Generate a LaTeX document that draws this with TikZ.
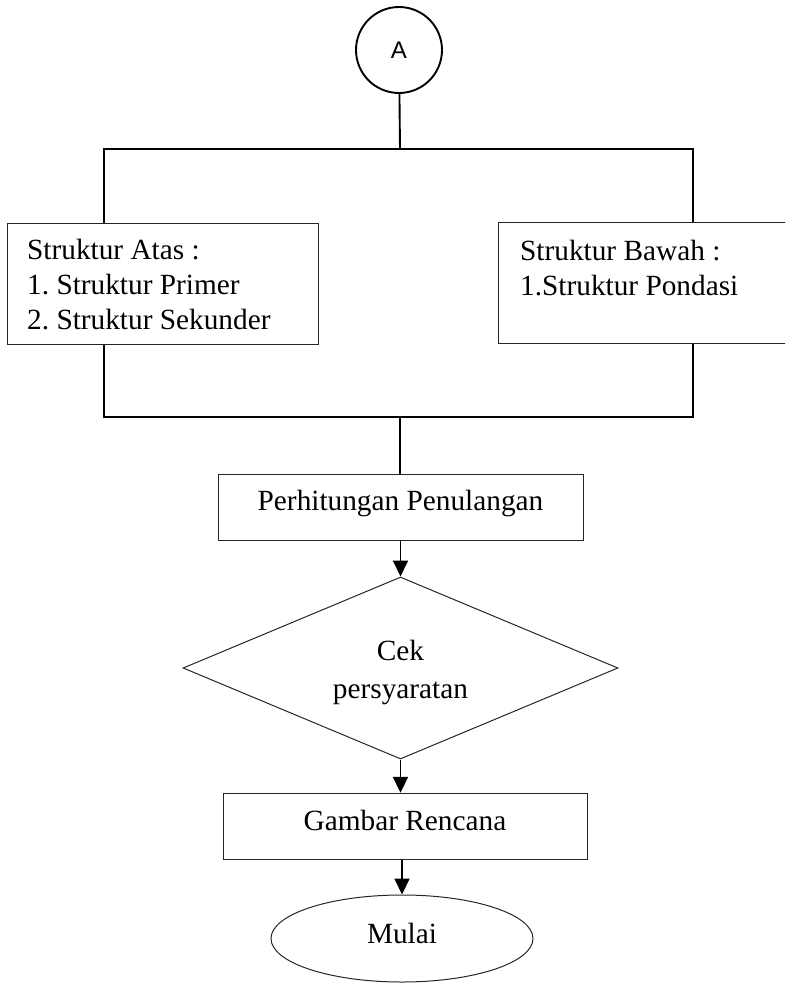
\documentclass[tikz,border=0pt]{standalone}
\usepackage{fontspec}
\setmainfont{Liberation Serif}
\newfontfamily\labelsans{Liberation Sans}
\usetikzlibrary{shapes.geometric,arrows.meta}
\frenchspacing
\begin{document}
\begin{tikzpicture}[x=1pt,y=-1pt,
  conn/.style={line width=1.9pt},
  flow/.style={conn,-{Triangle[length=16pt,width=15pt]}},
  frame/.style={draw=black!85,line width=1pt,inner sep=0pt},
  body/.style={inner sep=0pt,font=\fontsize{29.3}{35}\selectfont},
  stepbox/.style={frame,body,anchor=base,text height=36.7pt,text depth=29.3pt},
]
\useasboundingbox (0,0) rectangle (785,983);
\clip (0,0) rectangle (785,983);

% connector node
\node[draw,circle,line width=1.9pt,minimum size=86pt,inner sep=0pt,
      font=\labelsans\fontsize{24}{28}\selectfont] (A) at (399,50) {A};

% branch coordinates
\coordinate (tj) at (400,149);
\coordinate (tl) at (104,149);
\coordinate (tr) at (693,149);
\coordinate (bl) at (104,417);
\coordinate (br) at (693,417);
\coordinate (bj) at (400,417);

% structure boxes
\node[frame,minimum width=311pt,minimum height=121pt] (atas) at (162.5,283.5) {};
\node[body,align=left,anchor=north west] (atasT) at (27,238.5)
  {Struktur Atas :\\1. Struktur Primer\\2. Struktur Sekunder};
\node[frame,minimum width=302pt,minimum height=121pt] (bawah) at (649,282.5) {};
\node[body,align=left,anchor=north west] (bawahT) at (520,239.5)
  {Struktur Bawah :\\1.Struktur Pondasi};

% process steps
\node[stepbox,minimum width=365pt] (hitung) at (400.5,510.7) {Perhitungan Penulangan};
\node[frame,diamond,minimum width=435pt,minimum height=182pt] (cek) at (400.5,668) {};
\node[body,align=center,anchor=north,font=\fontsize{29.3}{38}\selectfont] (cekT) at (400.5,639.5)
  {Cek\\persyaratan};
\node[stepbox,minimum width=364pt] (gambar) at (405,830) {Gambar Rencana};
\node[frame,ellipse,minimum width=262pt,minimum height=87pt,body,text depth=10pt] (mulai)
  at (402,938.5) {Mulai};

% branching lines
\draw[conn] (A) -- (tj);
\draw[conn] (tl |- atas.north) -- (tl) -- (tr) -- (tr |- bawah.north);
\draw[conn] (atas.south -| bl) -- (bl) -- (br) -- (bawah.south -| br);
\draw[conn] (bj) -- (hitung.north -| bj);

% flow arrows
\draw[flow] (hitung.south -| cek.north) -- (cek.north);
\draw[flow] (cek.south) -- (cek.south |- gambar.north);
\draw[flow] (gambar.south -| mulai.north) -- (mulai.north);
\end{tikzpicture}
\end{document}
